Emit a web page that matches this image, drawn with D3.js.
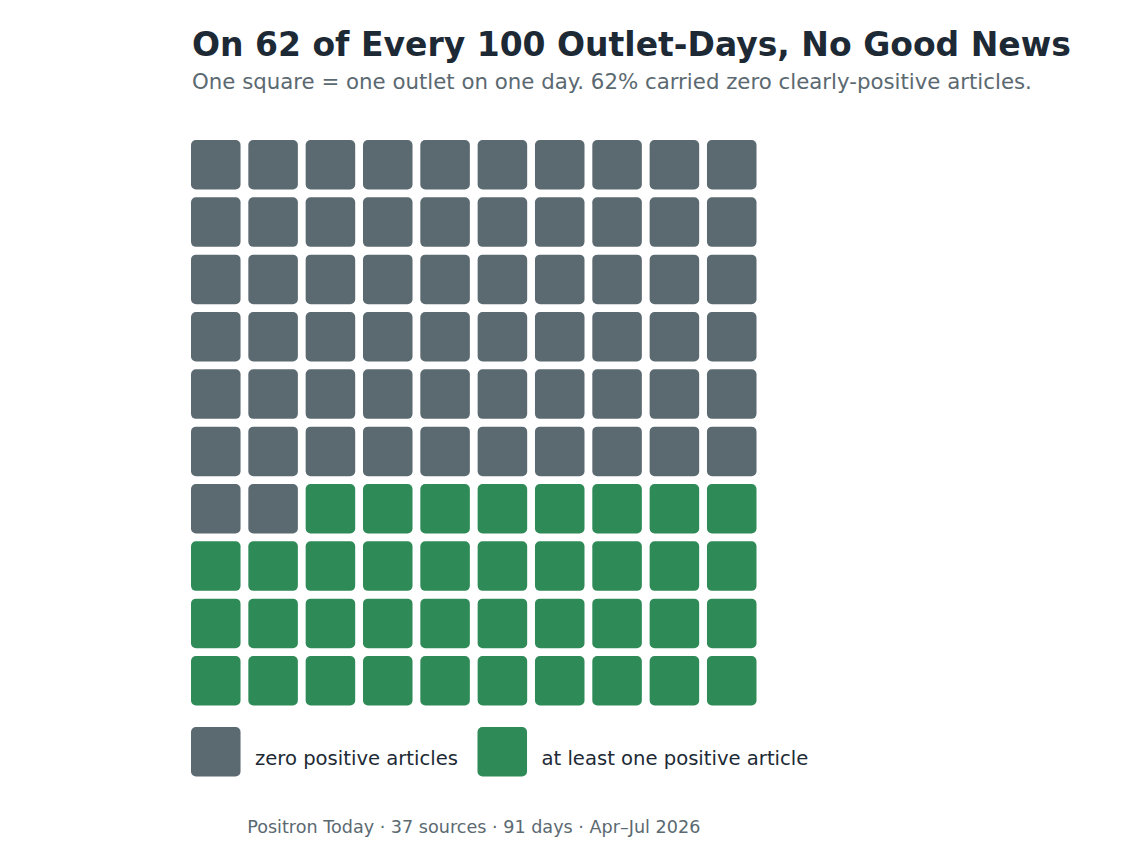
<!DOCTYPE html>
<html>
<head>
<meta charset="utf-8">
<script src="https://cdn.jsdelivr.net/npm/d3@7"></script>
<style>
  body { margin: 0; background: #fff; font-family: "DejaVu Sans", sans-serif; }
</style>
</head>
<body>
<div id="waffle"></div>
<script>
// data
var categories = ["zero positive articles", "at least one positive article"];
var counts = [62, 38];
var colors = ["#5b6971", "#2e8b57"];
var title = "On 62 of Every 100 Outlet-Days, No Good News";
var subtitle = "One square = one outlet on one day. 62% carried zero clearly-positive articles.";
var footer = "Positron Today \u00b7 37 sources \u00b7 91 days \u00b7 Apr\u2013Jul 2026";

var width = 1148, height = 868;
var cols = 10, rows = 10;

// one cell per square, filled row by row from top-left
var cells = [];
categories.forEach(function (c, ci) {
    for (var k = 0; k < counts[ci]; k++) cells.push({ cat: ci });
});
cells.forEach(function (d, i) {
    d.col = i % cols;
    d.row = Math.floor(i / cols);
});

var svg = d3.select("#waffle").append("svg")
    .attr("width", width)
    .attr("height", height);

var xScale = d3.scaleBand()
    .domain(d3.range(cols))
    .range([191, 756.5])
    .paddingInner(0.136);

var yScale = d3.scaleBand()
    .domain(d3.range(rows))
    .range([140, 705.5])
    .paddingInner(0.136);

var color = d3.scaleOrdinal().domain([0, 1]).range(colors);

// title + subtitle
svg.append("text")
    .attr("x", 192).attr("y", 56)
    .style("font-size", "33px")
    .style("font-weight", "bold")
    .style("fill", "#1d2a35")
    .text(title);

svg.append("text")
    .attr("x", 192).attr("y", 89)
    .style("font-size", "21.3px")
    .style("fill", "#5b6971")
    .text(subtitle);

// squares
svg.selectAll("rect.cell")
    .data(cells)
    .enter().append("rect")
    .attr("class", "cell")
    .attr("x", function (d) { return xScale(d.col); })
    .attr("y", function (d) { return yScale(d.row); })
    .attr("width", xScale.bandwidth())
    .attr("height", yScale.bandwidth())
    .attr("rx", 5).attr("ry", 5)
    .style("fill", function (d) { return color(d.cat); });

// legend
var legendX = [191, 477.5];
var legend = svg.selectAll("g.legend")
    .data(categories)
    .enter().append("g")
    .attr("class", "legend")
    .attr("transform", function (d, i) { return "translate(" + legendX[i] + ",727)"; });

legend.append("rect")
    .attr("width", xScale.bandwidth())
    .attr("height", yScale.bandwidth())
    .attr("rx", 5).attr("ry", 5)
    .style("fill", function (d, i) { return colors[i]; });

legend.append("text")
    .attr("x", 64).attr("y", 38)
    .style("font-size", "19.6px")
    .style("fill", "#1d2a35")
    .text(function (d) { return d; });

// footer, centred under the grid
svg.append("text")
    .attr("x", (191 + 756.5) / 2).attr("y", 833)
    .attr("text-anchor", "middle")
    .style("font-size", "17.6px")
    .style("fill", "#5b6971")
    .text(footer);
</script>
</body>
</html>
